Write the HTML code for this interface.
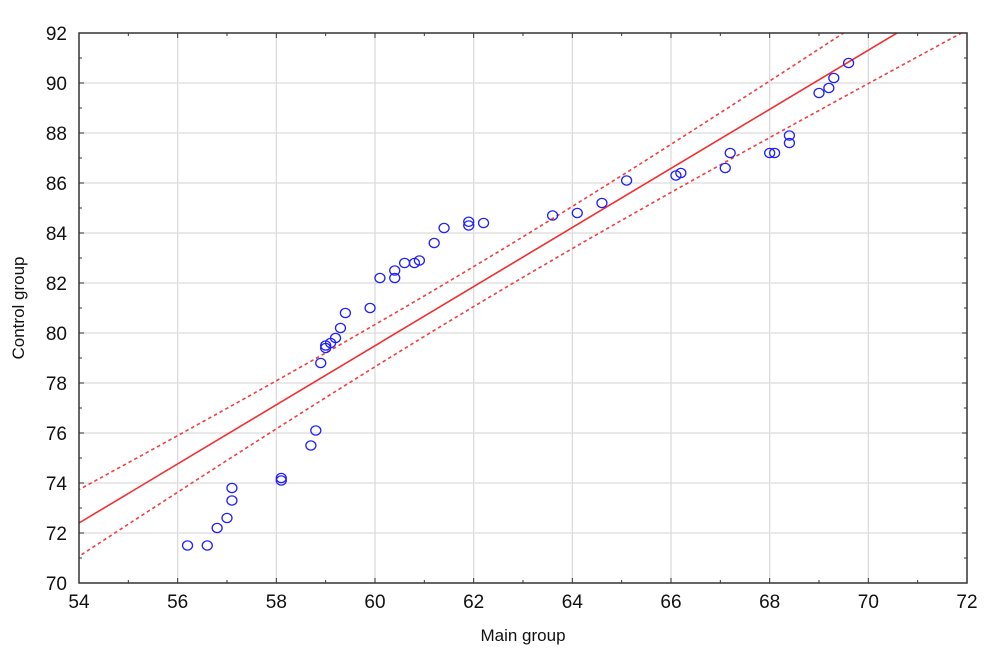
<!DOCTYPE html>
<html><head><meta charset="utf-8"><style>
html,body{margin:0;padding:0;background:#fff;}
svg{display:block;font-family:"Liberation Sans",sans-serif;}
</style></head><body>
<svg id="s" width="1007" height="662" xmlns="http://www.w3.org/2000/svg"></svg>
<script>
const s=document.getElementById('s');
const L=79,T=33,R=967,B=583;
const px=x=>L+(x-54)*(R-L)/18, py=y=>B-(y-70)*(B-T)/22;
let h='';
for(let x=56;x<72;x+=2)h+=`<line x1="${px(x)}" y1="${T}" x2="${px(x)}" y2="${B}" stroke="#dcdcdc" stroke-width="1.3"/>`;
for(let y=72;y<92;y+=2)h+=`<line x1="${L}" y1="${py(y)}" x2="${R}" y2="${py(y)}" stroke="#dcdcdc" stroke-width="1.3"/>`;
h+=`<clipPath id="c"><rect x="${L}" y="${T}" width="${R-L}" height="${B-T}"/></clipPath><g clip-path="url(#c)">`;
const f=x=>72.4+1.182*(x-54), w=x=>Math.sqrt(0.64+0.0178*(x-62)**2);
let up=[],lo=[];
for(let x=53.5;x<=72.5;x+=0.25){up.push(px(x)+','+py(f(x)+w(x)));lo.push(px(x)+','+py(f(x)-w(x)));}
h+=`<line x1="${px(53)}" y1="${py(f(53))}" x2="${px(73)}" y2="${py(f(73))}" stroke="#f03030" stroke-width="1.6"/>`;
h+=`<polyline points="${up.join(' ')}" fill="none" stroke="#f04040" stroke-width="1.6" stroke-dasharray="3.5,3"/>`;
h+=`<polyline points="${lo.join(' ')}" fill="none" stroke="#f04040" stroke-width="1.6" stroke-dasharray="3.5,3"/>`;
const P=[[56.2,71.5],[56.6,71.5],[56.8,72.2],[57.0,72.6],[57.1,73.3],[57.1,73.8],[58.1,74.1],[58.1,74.2],[58.7,75.5],[58.8,76.1],[58.9,78.8],[59.0,79.4],[59.0,79.5],[59.1,79.6],[59.2,79.8],[59.3,80.2],[59.4,80.8],[59.9,81.0],[60.1,82.2],[60.4,82.2],[60.4,82.5],[60.6,82.8],[60.8,82.8],[60.9,82.9],[61.2,83.6],[61.4,84.2],[61.9,84.3],[61.9,84.45],[62.2,84.4],[63.6,84.7],[64.1,84.8],[64.6,85.2],[65.1,86.1],[66.1,86.3],[66.2,86.4],[67.1,86.6],[67.2,87.2],[68.0,87.2],[68.1,87.2],[68.4,87.6],[68.4,87.9],[69.0,89.6],[69.2,89.8],[69.3,90.2],[69.6,90.8]];
for(const [x,y] of P)h+=`<ellipse cx="${px(x)}" cy="${py(y)}" rx="5" ry="4.6" fill="none" stroke="#2020ff" stroke-width="1.3"/>`;
h+='</g>';
h+=`<rect x="${L}" y="${T}" width="${R-L}" height="${B-T}" fill="none" stroke="#333" stroke-width="1.5"/>`;
for(let x=54;x<=72;x++){const big=x%2==0;h+=`<line x1="${px(x)}" y1="${B}" x2="${px(x)}" y2="${B-(big?5:3)}" stroke="#333"/><line x1="${px(x)}" y1="${T}" x2="${px(x)}" y2="${T+(big?5:3)}" stroke="#333"/>`;
 if(big)h+=`<text x="${px(x)}" y="${B+25}" font-size="19" text-anchor="middle" fill="#111">${x}</text>`;}
for(let y=70;y<=92;y++){const big=y%2==0;h+=`<line x1="${L}" y1="${py(y)}" x2="${L+(big?5:3)}" y2="${py(y)}" stroke="#333"/><line x1="${R}" y1="${py(y)}" x2="${R-(big?5:3)}" y2="${py(y)}" stroke="#333"/>`;
 if(big)h+=`<text x="${L-12}" y="${py(y)+7}" font-size="19" text-anchor="end" fill="#111">${y}</text>`;}
h+=`<text x="${(L+R)/2}" y="641" font-size="17" text-anchor="middle" fill="#111">Main group</text>`;
h+=`<text transform="translate(24,${(T+B)/2}) rotate(-90)" font-size="17" text-anchor="middle" fill="#111">Control group</text>`;
s.innerHTML=h;
</script>
</body></html>
